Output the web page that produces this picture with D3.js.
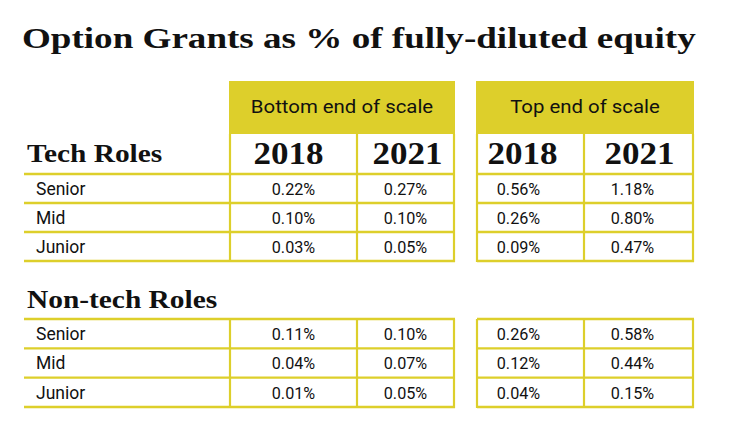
<!DOCTYPE html>
<html><head><meta charset="utf-8">
<script src="https://cdn.jsdelivr.net/npm/d3@7"></script>
<style>body{margin:0;background:#fff}svg{display:block}</style>
</head><body>
<script>
const title = "Option Grants as % of fully-diluted equity";
const scaleGroups = ["Bottom end of scale", "Top end of scale"];
const years = ["2018", "2021"];
const roles = ["Senior", "Mid", "Junior"];
const sections = ["Tech Roles", "Non-tech Roles"];
// values per section, per role: [bottom2018, bottom2021, top2018, top2021]
const techValues = [[0.22, 0.27, 0.56, 1.18], [0.10, 0.10, 0.26, 0.80], [0.03, 0.05, 0.09, 0.47]];
const nonTechValues = [[0.11, 0.10, 0.26, 0.58], [0.04, 0.07, 0.12, 0.44], [0.01, 0.05, 0.04, 0.15]];

const W = 740, H = 442;
const YEL = "#DDCF2B", INK = "#111";
const svg = d3.select("body").append("svg").attr("width", W).attr("height", H);

const serif = "'Liberation Serif','Times New Roman',serif";
const sans = "Roboto,'Liberation Sans',sans-serif";

// layout
const labelX0 = 24;
const blocks = [{x0: 230, x1: 454}, {x0: 477, x1: 693}];
const colEdges = [[230, 357, 454], [477, 584, 693]];
const yearShift = [[-5, 2], [-8, 1]];
const valShift = [[0, 0], [-12, -6]];
const headTop = 81, headBot = 134, yearBot = 174;
const sectionRanges = [[174, 261], [319, 407]];
const sectionLabelY = [162, 308];

function txt(parent, x, y, s, o) {
  const g = parent.append("g").attr("transform", `translate(${x},${y})`);
  const t = g.append("text").attr("x", 0).attr("y", 0)
    .attr("text-anchor", o.anchor || "start")
    .attr("font-family", o.family).attr("font-size", o.size)
    .attr("font-weight", o.weight || 400).attr("fill", INK).text(s);
  let sx = o.sx || 1;
  if (o.width) sx = o.width / t.node().getComputedTextLength();
  g.attr("transform", `translate(${x},${y}) scale(${sx},1)`);
  return g;
}

txt(svg, 22, 48.3, title, {family: serif, weight: 700, size: 30, width: 674});

blocks.forEach((b, i) => {
  svg.append("rect").attr("x", b.x0 - 1).attr("y", headTop).attr("width", b.x1 - b.x0 + 2)
    .attr("height", headBot - headTop).attr("fill", YEL);
  txt(svg, (b.x0 + b.x1) / 2, 113.3, scaleGroups[i], {family: sans, size: 18.7, anchor: "middle", sx: 1.09});
  years.forEach((yr, j) => {
    const cx = (colEdges[i][j] + colEdges[i][j + 1]) / 2 + yearShift[i][j];
    txt(svg, cx, 164, yr, {family: serif, weight: 700, size: 32, anchor: "middle", width: 70});
  });
  colEdges[i].forEach(x => {
    svg.append("line").attr("x1", x).attr("x2", x).attr("y1", headBot).attr("y2", yearBot)
      .attr("stroke", YEL).attr("stroke-width", 2.2);
  });
});

const fmt = v => v.toFixed(2) + "%";
[techValues, nonTechValues].forEach((vals, s) => {
  const [r0, r1] = sectionRanges[s];
  const y = d3.scaleBand().domain(roles).range([r0, r1]);
  txt(svg, 27, sectionLabelY[s], sections[s], {family: serif, weight: 700, size: 24.5, sx: 1.2});

  const g = svg.append("g");
  const hLines = [r0].concat(roles.map(r => y(r) + y.bandwidth()));
  blocks.forEach((b, i) => {
    const xa = i === 0 ? labelX0 : b.x0;
    hLines.forEach(hy => {
      g.append("line").attr("x1", xa).attr("x2", b.x1 + 1).attr("y1", hy).attr("y2", hy)
        .attr("stroke", YEL).attr("stroke-width", 2.4);
    });
    colEdges[i].forEach(x => {
      g.append("line").attr("x1", x).attr("x2", x).attr("y1", r0).attr("y2", r1 + 1)
        .attr("stroke", YEL).attr("stroke-width", 2.2);
    });
  });
  roles.forEach((role, k) => {
    const by = y(role) + y.bandwidth() / 2 + 6.3;
    txt(g, 36, by, role, {family: sans, size: 17.5});
    vals[k].forEach((v, c) => {
      const bi = Math.floor(c / 2), j = c % 2;
      const cx = (colEdges[bi][j] + colEdges[bi][j + 1]) / 2 + valShift[bi][j];
      txt(g, cx, by, fmt(v), {family: sans, size: 17, anchor: "middle", width: 43.5});
    });
  });
});
</script>
</body></html>
